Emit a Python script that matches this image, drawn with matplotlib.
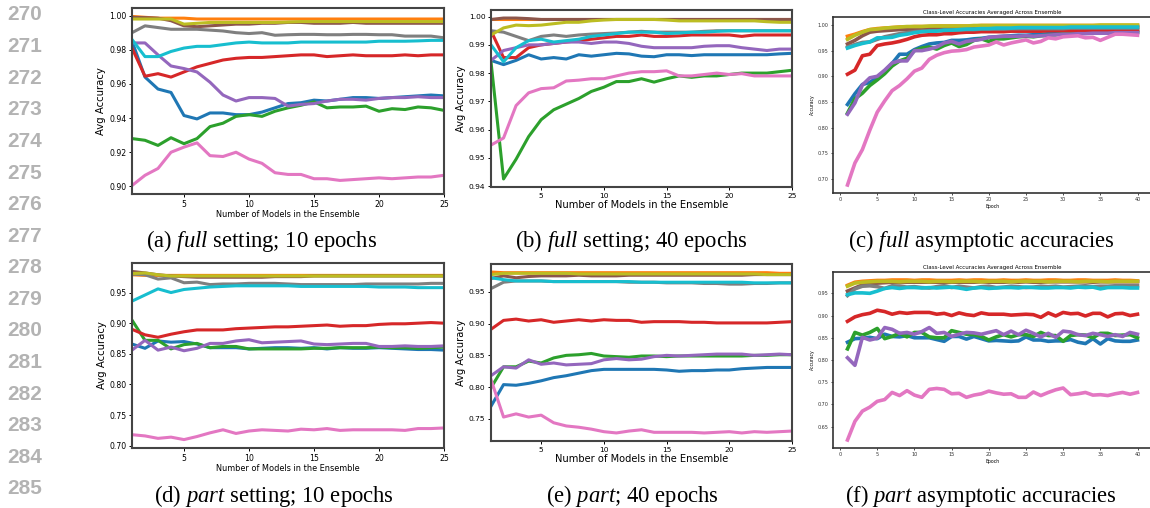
import numpy as np
import matplotlib
matplotlib.use("Agg")
import matplotlib.pyplot as plt

plt.rcParams['mathtext.fontset'] = 'custom'
plt.rcParams['mathtext.it'] = 'Liberation Serif:italic'
plt.rcParams['mathtext.rm'] = 'Liberation Serif'

# colour order of the curves (matplotlib tab10 cycle)
colors = ['tab:blue', 'tab:orange', 'tab:green', 'tab:red', 'tab:purple',
          'tab:brown', 'tab:pink', 'tab:gray', 'tab:olive', 'tab:cyan']

n_models = np.arange(1, 26)
epochs = np.arange(1, 41)

# (a) full setting, 10 epochs -- one row per curve, in colour order
full_10 = [
    [0.985, 0.964, 0.957, 0.955, 0.9415, 0.9395, 0.943, 0.943, 0.942, 0.942, 0.9435, 0.946, 0.9485, 0.949, 0.9505, 0.950, 0.951, 0.952, 0.952, 0.9515, 0.952, 0.9525, 0.953, 0.9535, 0.953],
    [0.9995, 0.999, 0.9985, 0.9985, 0.9985, 0.998, 0.998, 0.998, 0.998, 0.998, 0.998, 0.998, 0.998, 0.998, 0.998, 0.998, 0.998, 0.998, 0.998, 0.998, 0.998, 0.998, 0.998, 0.998, 0.998],
    [0.928, 0.927, 0.924, 0.9285, 0.925, 0.928, 0.935, 0.937, 0.941, 0.942, 0.941, 0.944, 0.946, 0.9475, 0.9495, 0.946, 0.9465, 0.9465, 0.947, 0.944, 0.9455, 0.945, 0.9465, 0.946, 0.9445],
    [0.981, 0.9645, 0.966, 0.964, 0.967, 0.970, 0.972, 0.974, 0.975, 0.9755, 0.9755, 0.976, 0.9765, 0.977, 0.977, 0.976, 0.9765, 0.977, 0.9765, 0.9765, 0.9765, 0.977, 0.9765, 0.977, 0.977],
    [0.984, 0.984, 0.977, 0.9705, 0.969, 0.967, 0.961, 0.9535, 0.950, 0.952, 0.952, 0.9515, 0.947, 0.948, 0.9485, 0.950, 0.951, 0.951, 0.9505, 0.9515, 0.952, 0.952, 0.9525, 0.952, 0.952],
    [0.999, 0.9988, 0.9985, 0.997, 0.994, 0.9935, 0.994, 0.9945, 0.995, 0.995, 0.9955, 0.9955, 0.996, 0.996, 0.9955, 0.9955, 0.9955, 0.996, 0.9955, 0.9955, 0.9955, 0.9955, 0.9955, 0.9955, 0.9955],
    [0.9005, 0.9065, 0.9105, 0.920, 0.923, 0.9255, 0.918, 0.9175, 0.920, 0.916, 0.9135, 0.908, 0.907, 0.907, 0.9045, 0.9045, 0.9035, 0.904, 0.9045, 0.905, 0.9045, 0.905, 0.9055, 0.9055, 0.9065],
    [0.990, 0.994, 0.993, 0.992, 0.992, 0.992, 0.9915, 0.991, 0.990, 0.9895, 0.990, 0.9885, 0.9888, 0.989, 0.989, 0.9888, 0.9888, 0.989, 0.989, 0.9888, 0.9888, 0.988, 0.988, 0.988, 0.987],
    [0.998, 0.998, 0.998, 0.998, 0.995, 0.9955, 0.996, 0.996, 0.996, 0.996, 0.996, 0.996, 0.9962, 0.9965, 0.9965, 0.9965, 0.9965, 0.9965, 0.9965, 0.9965, 0.9965, 0.9965, 0.9965, 0.9965, 0.9965],
    [0.986, 0.976, 0.976, 0.979, 0.981, 0.982, 0.982, 0.983, 0.984, 0.9845, 0.984, 0.984, 0.984, 0.9845, 0.9845, 0.9845, 0.9845, 0.9845, 0.9845, 0.985, 0.985, 0.985, 0.9852, 0.9855, 0.9855],
]

# (b) full setting, 40 epochs
full_40 = [
    [0.9845, 0.983, 0.9845, 0.9865, 0.985, 0.9855, 0.985, 0.9865, 0.986, 0.9865, 0.987, 0.9868, 0.986, 0.9858, 0.9865, 0.9865, 0.9862, 0.9865, 0.9865, 0.9865, 0.9865, 0.9865, 0.9865, 0.9868, 0.987],
    [0.9992, 0.9992, 0.9992, 0.9992, 0.9992, 0.9992, 0.9992, 0.9992, 0.9992, 0.9992, 0.9992, 0.9992, 0.9992, 0.9992, 0.9992, 0.9992, 0.9992, 0.9992, 0.9992, 0.9992, 0.9992, 0.9992, 0.9992, 0.9992, 0.9992],
    [0.984, 0.9425, 0.9495, 0.9575, 0.9635, 0.967, 0.969, 0.971, 0.9735, 0.975, 0.977, 0.977, 0.978, 0.9768, 0.978, 0.979, 0.9785, 0.979, 0.979, 0.9795, 0.980, 0.980, 0.980, 0.9805, 0.981],
    [0.995, 0.9855, 0.9855, 0.989, 0.990, 0.9905, 0.991, 0.9915, 0.992, 0.9925, 0.993, 0.993, 0.9935, 0.993, 0.993, 0.9932, 0.9935, 0.9935, 0.9935, 0.9935, 0.993, 0.9935, 0.9935, 0.9935, 0.9935],
    [0.9845, 0.988, 0.989, 0.990, 0.990, 0.9905, 0.991, 0.991, 0.9905, 0.991, 0.991, 0.9905, 0.9895, 0.989, 0.989, 0.989, 0.989, 0.9895, 0.9897, 0.9897, 0.989, 0.9885, 0.988, 0.9885, 0.9885],
    [0.999, 0.9995, 0.9995, 0.9993, 0.999, 0.999, 0.999, 0.999, 0.999, 0.999, 0.999, 0.999, 0.999, 0.999, 0.999, 0.999, 0.999, 0.999, 0.999, 0.999, 0.999, 0.999, 0.999, 0.999, 0.999],
    [0.9545, 0.957, 0.9685, 0.973, 0.9745, 0.9748, 0.9772, 0.9775, 0.978, 0.978, 0.979, 0.980, 0.9805, 0.9805, 0.9808, 0.979, 0.979, 0.9795, 0.980, 0.9795, 0.9798, 0.979, 0.979, 0.979, 0.979],
    [0.995, 0.9945, 0.993, 0.9915, 0.993, 0.9935, 0.993, 0.9935, 0.9938, 0.994, 0.9942, 0.9945, 0.9948, 0.9945, 0.9945, 0.9945, 0.9945, 0.9948, 0.995, 0.995, 0.995, 0.995, 0.995, 0.995, 0.995],
    [0.9935, 0.996, 0.997, 0.9968, 0.997, 0.9975, 0.998, 0.998, 0.9985, 0.9988, 0.999, 0.999, 0.999, 0.999, 0.9988, 0.9985, 0.9985, 0.9985, 0.9985, 0.9985, 0.9985, 0.9985, 0.9982, 0.998, 0.998],
    [0.990, 0.984, 0.989, 0.9915, 0.992, 0.991, 0.9915, 0.992, 0.993, 0.9935, 0.994, 0.9945, 0.9945, 0.9945, 0.994, 0.9942, 0.9945, 0.9945, 0.9948, 0.995, 0.995, 0.995, 0.995, 0.995, 0.995],
]

# (c) full asymptotic accuracies, per epoch
full_asym = [
    [0.845, 0.866, 0.884, 0.888, 0.898, 0.910, 0.925, 0.943, 0.943, 0.952, 0.958, 0.963, 0.965, 0.966, 0.970, 0.970, 0.971, 0.973, 0.974, 0.976, 0.977, 0.978, 0.979, 0.980, 0.980, 0.981, 0.982, 0.983, 0.984, 0.985, 0.985, 0.985, 0.985, 0.985, 0.986, 0.986, 0.986, 0.986, 0.986, 0.986],
    [0.978, 0.982, 0.987, 0.991, 0.993, 0.994, 0.995, 0.996, 0.996, 0.997, 0.997, 0.997, 0.998, 0.998, 0.998, 0.998, 0.998, 0.998, 0.999, 0.999, 0.999, 0.999, 0.999, 0.999, 0.999, 0.999, 0.999, 0.999, 0.999, 0.999, 0.999, 0.999, 0.999, 0.999, 0.999, 0.999, 0.999, 0.999, 0.999, 0.999],
    [0.828, 0.856, 0.867, 0.882, 0.893, 0.905, 0.920, 0.930, 0.935, 0.950, 0.955, 0.957, 0.953, 0.960, 0.965, 0.958, 0.962, 0.970, 0.973, 0.968, 0.973, 0.973, 0.975, 0.977, 0.978, 0.977, 0.979, 0.980, 0.981, 0.983, 0.984, 0.984, 0.985, 0.985, 0.986, 0.986, 0.986, 0.987, 0.987, 0.987],
    [0.904, 0.912, 0.940, 0.943, 0.960, 0.963, 0.965, 0.968, 0.972, 0.977, 0.980, 0.981, 0.981, 0.983, 0.983, 0.985, 0.986, 0.986, 0.987, 0.987, 0.987, 0.987, 0.988, 0.988, 0.988, 0.988, 0.988, 0.989, 0.989, 0.989, 0.989, 0.989, 0.989, 0.989, 0.990, 0.990, 0.990, 0.990, 0.990, 0.990],
    [0.826, 0.848, 0.883, 0.897, 0.900, 0.912, 0.926, 0.930, 0.930, 0.950, 0.950, 0.953, 0.957, 0.965, 0.968, 0.963, 0.968, 0.970, 0.972, 0.976, 0.977, 0.978, 0.978, 0.978, 0.979, 0.978, 0.979, 0.980, 0.981, 0.982, 0.982, 0.983, 0.983, 0.984, 0.984, 0.984, 0.985, 0.985, 0.985, 0.985],
    [0.963, 0.970, 0.979, 0.986, 0.988, 0.989, 0.990, 0.991, 0.991, 0.992, 0.992, 0.992, 0.993, 0.993, 0.993, 0.993, 0.994, 0.994, 0.994, 0.994, 0.994, 0.995, 0.995, 0.995, 0.995, 0.995, 0.995, 0.995, 0.995, 0.995, 0.995, 0.996, 0.996, 0.996, 0.996, 0.996, 0.996, 0.996, 0.996, 0.996],
    [0.688, 0.731, 0.757, 0.795, 0.830, 0.852, 0.872, 0.882, 0.895, 0.910, 0.916, 0.933, 0.941, 0.946, 0.949, 0.950, 0.952, 0.957, 0.959, 0.961, 0.967, 0.961, 0.965, 0.968, 0.971, 0.965, 0.968, 0.975, 0.973, 0.977, 0.978, 0.979, 0.975, 0.976, 0.970, 0.976, 0.982, 0.982, 0.981, 0.980],
    [0.957, 0.962, 0.966, 0.967, 0.972, 0.977, 0.980, 0.983, 0.985, 0.987, 0.988, 0.988, 0.989, 0.989, 0.990, 0.990, 0.991, 0.991, 0.992, 0.992, 0.992, 0.992, 0.993, 0.993, 0.993, 0.993, 0.993, 0.993, 0.993, 0.993, 0.994, 0.994, 0.994, 0.994, 0.994, 0.994, 0.994, 0.994, 0.994, 0.994],
    [0.972, 0.980, 0.986, 0.991, 0.992, 0.994, 0.995, 0.996, 0.997, 0.997, 0.997, 0.998, 0.998, 0.998, 0.998, 0.998, 0.998, 0.999, 0.999, 0.999, 0.999, 0.999, 0.999, 0.999, 0.999, 0.999, 0.999, 0.999, 0.999, 0.999, 0.999, 0.999, 0.999, 0.999, 1.000, 1.000, 1.000, 1.000, 1.000, 1.000],
    [0.955, 0.960, 0.964, 0.967, 0.975, 0.975, 0.976, 0.980, 0.982, 0.985, 0.987, 0.988, 0.988, 0.990, 0.990, 0.991, 0.992, 0.992, 0.993, 0.993, 0.994, 0.994, 0.994, 0.995, 0.995, 0.995, 0.995, 0.995, 0.995, 0.995, 0.996, 0.996, 0.996, 0.996, 0.996, 0.996, 0.996, 0.996, 0.996, 0.996],
]

# (d) part setting, 10 epochs
part_10 = [
    [0.866, 0.859, 0.871, 0.869, 0.870, 0.866, 0.860, 0.860, 0.860, 0.858, 0.859, 0.860, 0.860, 0.859, 0.860, 0.858, 0.860, 0.859, 0.859, 0.860, 0.859, 0.858, 0.857, 0.857, 0.856],
    [0.979, 0.978, 0.978, 0.978, 0.978, 0.978, 0.978, 0.978, 0.978, 0.978, 0.978, 0.978, 0.978, 0.978, 0.978, 0.978, 0.978, 0.978, 0.978, 0.978, 0.978, 0.978, 0.978, 0.978, 0.978],
    [0.905, 0.872, 0.872, 0.858, 0.865, 0.867, 0.860, 0.862, 0.862, 0.858, 0.858, 0.858, 0.858, 0.858, 0.859, 0.859, 0.860, 0.860, 0.860, 0.861, 0.860, 0.860, 0.859, 0.860, 0.861],
    [0.890, 0.881, 0.877, 0.882, 0.886, 0.889, 0.889, 0.889, 0.891, 0.892, 0.893, 0.894, 0.894, 0.895, 0.896, 0.897, 0.895, 0.896, 0.896, 0.898, 0.899, 0.899, 0.900, 0.901, 0.900],
    [0.856, 0.872, 0.856, 0.861, 0.855, 0.859, 0.867, 0.867, 0.871, 0.873, 0.868, 0.869, 0.870, 0.871, 0.866, 0.865, 0.866, 0.867, 0.867, 0.862, 0.862, 0.863, 0.862, 0.862, 0.863],
    [0.9845, 0.982, 0.979, 0.977, 0.976, 0.975, 0.975, 0.975, 0.975, 0.975, 0.975, 0.976, 0.976, 0.976, 0.977, 0.977, 0.977, 0.977, 0.977, 0.977, 0.977, 0.977, 0.977, 0.977, 0.977],
    [0.718, 0.716, 0.712, 0.714, 0.710, 0.715, 0.721, 0.726, 0.720, 0.724, 0.726, 0.725, 0.724, 0.727, 0.726, 0.728, 0.725, 0.726, 0.726, 0.726, 0.726, 0.725, 0.728, 0.728, 0.729],
    [0.980, 0.979, 0.972, 0.974, 0.966, 0.967, 0.963, 0.964, 0.964, 0.965, 0.965, 0.965, 0.964, 0.963, 0.963, 0.963, 0.963, 0.963, 0.964, 0.964, 0.964, 0.964, 0.964, 0.965, 0.965],
    [0.981, 0.982, 0.979, 0.977, 0.977, 0.977, 0.977, 0.977, 0.977, 0.977, 0.977, 0.977, 0.977, 0.977, 0.977, 0.977, 0.977, 0.977, 0.977, 0.977, 0.977, 0.977, 0.977, 0.977, 0.977],
    [0.936, 0.946, 0.956, 0.950, 0.955, 0.957, 0.959, 0.960, 0.961, 0.961, 0.961, 0.961, 0.961, 0.960, 0.960, 0.960, 0.960, 0.960, 0.960, 0.959, 0.959, 0.959, 0.958, 0.958, 0.958],
]

# (e) part setting, 40 epochs
part_40 = [
    [0.770, 0.804, 0.803, 0.806, 0.810, 0.815, 0.818, 0.822, 0.826, 0.828, 0.828, 0.828, 0.828, 0.828, 0.827, 0.825, 0.826, 0.826, 0.827, 0.827, 0.829, 0.830, 0.831, 0.831, 0.831],
    [0.981, 0.980, 0.980, 0.980, 0.980, 0.980, 0.980, 0.980, 0.980, 0.980, 0.980, 0.980, 0.980, 0.980, 0.980, 0.980, 0.980, 0.980, 0.980, 0.980, 0.980, 0.980, 0.980, 0.979, 0.979],
    [0.799, 0.832, 0.832, 0.841, 0.838, 0.846, 0.850, 0.851, 0.853, 0.849, 0.848, 0.847, 0.849, 0.849, 0.848, 0.849, 0.849, 0.849, 0.849, 0.849, 0.849, 0.850, 0.850, 0.851, 0.851],
    [0.891, 0.905, 0.907, 0.904, 0.906, 0.902, 0.904, 0.906, 0.904, 0.906, 0.905, 0.905, 0.902, 0.903, 0.903, 0.903, 0.902, 0.902, 0.901, 0.901, 0.901, 0.901, 0.901, 0.902, 0.903],
    [0.818, 0.832, 0.830, 0.843, 0.836, 0.838, 0.835, 0.836, 0.837, 0.843, 0.845, 0.843, 0.844, 0.848, 0.850, 0.849, 0.850, 0.851, 0.852, 0.852, 0.852, 0.850, 0.851, 0.852, 0.851],
    [0.971, 0.975, 0.972, 0.974, 0.975, 0.975, 0.975, 0.976, 0.975, 0.975, 0.975, 0.976, 0.976, 0.976, 0.976, 0.976, 0.976, 0.976, 0.976, 0.976, 0.976, 0.977, 0.977, 0.977, 0.977],
    [0.812, 0.753, 0.758, 0.753, 0.756, 0.744, 0.739, 0.737, 0.734, 0.730, 0.728, 0.731, 0.733, 0.729, 0.729, 0.729, 0.729, 0.728, 0.729, 0.730, 0.728, 0.730, 0.729, 0.730, 0.731],
    [0.955, 0.965, 0.967, 0.967, 0.967, 0.966, 0.966, 0.966, 0.966, 0.966, 0.966, 0.965, 0.965, 0.965, 0.964, 0.964, 0.964, 0.963, 0.963, 0.962, 0.962, 0.963, 0.963, 0.964, 0.964],
    [0.977, 0.979, 0.979, 0.979, 0.979, 0.979, 0.979, 0.978, 0.978, 0.978, 0.978, 0.978, 0.978, 0.978, 0.978, 0.978, 0.978, 0.978, 0.978, 0.978, 0.978, 0.978, 0.977, 0.977, 0.977],
    [0.972, 0.969, 0.967, 0.967, 0.967, 0.966, 0.966, 0.966, 0.966, 0.966, 0.966, 0.966, 0.965, 0.965, 0.965, 0.965, 0.965, 0.965, 0.965, 0.965, 0.965, 0.964, 0.964, 0.964, 0.964],
]

# (f) part asymptotic accuracies, per epoch
part_asym = [
    [0.840, 0.848, 0.849, 0.851, 0.848, 0.858, 0.853, 0.852, 0.855, 0.850, 0.850, 0.850, 0.846, 0.842, 0.853, 0.853, 0.847, 0.853, 0.848, 0.843, 0.844, 0.843, 0.842, 0.843, 0.852, 0.845, 0.845, 0.842, 0.843, 0.843, 0.846, 0.840, 0.837, 0.848, 0.836, 0.848, 0.843, 0.842, 0.842, 0.845],
    [0.968, 0.975, 0.977, 0.978, 0.979, 0.979, 0.980, 0.980, 0.980, 0.979, 0.980, 0.980, 0.979, 0.979, 0.979, 0.980, 0.979, 0.980, 0.980, 0.979, 0.979, 0.980, 0.979, 0.979, 0.980, 0.979, 0.979, 0.980, 0.980, 0.979, 0.979, 0.980, 0.980, 0.979, 0.979, 0.979, 0.980, 0.979, 0.979, 0.978],
    [0.825, 0.862, 0.856, 0.862, 0.871, 0.848, 0.853, 0.860, 0.852, 0.862, 0.862, 0.852, 0.850, 0.850, 0.866, 0.862, 0.858, 0.857, 0.853, 0.845, 0.852, 0.857, 0.852, 0.857, 0.857, 0.853, 0.862, 0.855, 0.855, 0.842, 0.855, 0.857, 0.856, 0.850, 0.860, 0.860, 0.855, 0.856, 0.857, 0.850],
    [0.887, 0.897, 0.902, 0.905, 0.912, 0.909, 0.903, 0.907, 0.905, 0.907, 0.907, 0.907, 0.903, 0.905, 0.900, 0.906, 0.902, 0.900, 0.906, 0.903, 0.903, 0.903, 0.901, 0.902, 0.903, 0.902, 0.896, 0.906, 0.899, 0.907, 0.904, 0.905, 0.899, 0.905, 0.905, 0.897, 0.904, 0.905, 0.900, 0.903],
    [0.805, 0.788, 0.851, 0.845, 0.849, 0.873, 0.869, 0.860, 0.862, 0.858, 0.864, 0.873, 0.860, 0.862, 0.853, 0.858, 0.862, 0.861, 0.858, 0.862, 0.866, 0.857, 0.865, 0.857, 0.867, 0.860, 0.852, 0.860, 0.851, 0.865, 0.863, 0.857, 0.855, 0.860, 0.857, 0.853, 0.857, 0.853, 0.862, 0.858],
    [0.955, 0.962, 0.969, 0.972, 0.973, 0.974, 0.975, 0.974, 0.975, 0.975, 0.975, 0.975, 0.975, 0.974, 0.975, 0.975, 0.975, 0.975, 0.976, 0.975, 0.975, 0.975, 0.976, 0.975, 0.976, 0.975, 0.975, 0.976, 0.976, 0.976, 0.976, 0.976, 0.976, 0.975, 0.976, 0.976, 0.976, 0.976, 0.976, 0.976],
    [0.620, 0.662, 0.685, 0.694, 0.707, 0.711, 0.727, 0.720, 0.731, 0.721, 0.716, 0.734, 0.736, 0.734, 0.724, 0.725, 0.716, 0.721, 0.724, 0.730, 0.726, 0.723, 0.724, 0.716, 0.716, 0.728, 0.720, 0.727, 0.733, 0.737, 0.722, 0.724, 0.727, 0.721, 0.722, 0.720, 0.724, 0.727, 0.723, 0.727],
    [0.945, 0.960, 0.966, 0.967, 0.965, 0.961, 0.967, 0.966, 0.964, 0.965, 0.963, 0.962, 0.965, 0.967, 0.963, 0.966, 0.964, 0.962, 0.965, 0.966, 0.963, 0.964, 0.966, 0.965, 0.963, 0.964, 0.966, 0.965, 0.966, 0.964, 0.965, 0.966, 0.967, 0.965, 0.966, 0.966, 0.967, 0.967, 0.967, 0.967],
    [0.966, 0.973, 0.975, 0.976, 0.977, 0.977, 0.977, 0.976, 0.977, 0.977, 0.977, 0.976, 0.977, 0.977, 0.976, 0.977, 0.977, 0.977, 0.976, 0.977, 0.977, 0.977, 0.976, 0.977, 0.977, 0.977, 0.977, 0.976, 0.977, 0.977, 0.977, 0.976, 0.977, 0.977, 0.977, 0.976, 0.977, 0.977, 0.977, 0.977],
    [0.947, 0.951, 0.951, 0.950, 0.955, 0.961, 0.963, 0.961, 0.963, 0.963, 0.962, 0.963, 0.962, 0.963, 0.964, 0.962, 0.959, 0.962, 0.963, 0.961, 0.962, 0.963, 0.963, 0.962, 0.964, 0.963, 0.962, 0.962, 0.963, 0.963, 0.962, 0.964, 0.963, 0.964, 0.960, 0.963, 0.963, 0.963, 0.962, 0.962],
]

captions = [
    r'(a) $\mathit{full}$ setting; 10 epochs',
    r'(b) $\mathit{full}$ setting; 40 epochs',
    r'(c) $\mathit{full}$ asymptotic accuracies',
    r'(d) $\mathit{part}$ setting; 10 epochs',
    r'(e) $\mathit{part}$; 40 epochs',
    r'(f) $\mathit{part}$ asymptotic accuracies',
]
line_numbers = list(range(270, 286))

W, H = 1150, 508
fig = plt.figure(figsize=(W / 100, H / 100), dpi=100)


def add_ax(x0, y0, x1, y1):
    # pixel box (left, top, right, bottom) -> figure fraction
    return fig.add_axes([x0 / W, 1 - y1 / H, (x1 - x0) / W, (y1 - y0) / H])


def ensemble_panel(ax, series, xlab_size, ylab_size, tick_size):
    for s, c in zip(series, colors):
        ax.plot(n_models, s, color=c, lw=2.2)
    ax.set_xlim(1, 25)
    ax.set_xticks([5, 10, 15, 20, 25])
    ax.set_xlabel('Number of Models in the Ensemble', fontsize=xlab_size, labelpad=1)
    ax.set_ylabel('Avg Accuracy', fontsize=ylab_size, labelpad=2)
    ax.tick_params(labelsize=tick_size, length=2.5, width=0.7, pad=1.5)
    for sp in ax.spines.values():
        sp.set_color('#444444')
        sp.set_linewidth(1.5)


def asym_panel(ax, series):
    for s, c in zip(series, colors):
        ax.plot(epochs, s, color=c, lw=2.6)
    ax.set_xticks(range(0, 41, 5))
    ax.set_title('Class-Level Accuracies Averaged Across Ensemble', fontsize=4, pad=2)
    ax.set_xlabel('Epoch', fontsize=3.3, labelpad=1)
    ax.set_ylabel('Accuracy', fontsize=3.3, labelpad=2)
    ax.tick_params(labelsize=3.5, length=1.5, width=0.5, pad=1.5, labelcolor='#333333')
    for sp in ax.spines.values():
        sp.set_color('#333333')
        sp.set_linewidth(1.2)


ax_a = add_ax(132, 8, 444, 194)
ensemble_panel(ax_a, full_10, 5.9, 7.3, 5.6)
ax_b = add_ax(491, 10, 792, 187)
ensemble_panel(ax_b, full_40, 7.1, 7.1, 5.4)
ax_c = add_ax(833, 17, 1152, 193)
asym_panel(ax_c, full_asym)
ax_d = add_ax(132, 263, 444, 448)
ensemble_panel(ax_d, part_10, 5.9, 7.3, 5.6)
ax_e = add_ax(491, 264, 792, 441)
ensemble_panel(ax_e, part_40, 7.1, 7.1, 5.4)
ax_f = add_ax(833, 272, 1152, 448)
asym_panel(ax_f, part_asym)

# sub-figure captions
cap_pos = [(262, 241), (631, 241), (981, 241), (274, 496), (632, 496), (981, 496)]
for (cx, cy), txt in zip(cap_pos, captions):
    fig.text(cx / W, 1 - cy / H, txt, ha='center', va='center',
             family='Liberation Serif', fontsize=16.3)

# page line numbers at the left margin
for i, n in enumerate(line_numbers):
    fig.text(25 / W, 1 - (15 + i * 31.6) / H, str(n), ha='center', va='center',
             family='Liberation Sans', weight='bold', fontsize=15, color='#b3b3b3')

fig.savefig('out.png', dpi=100)
